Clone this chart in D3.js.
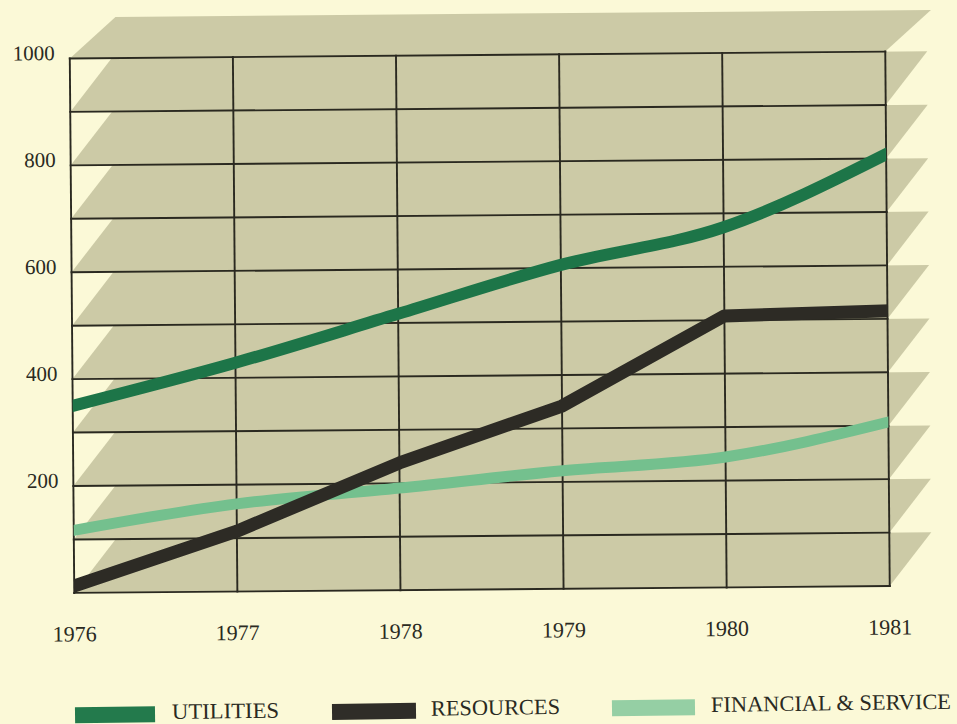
<!DOCTYPE html>
<html><head><meta charset="utf-8">
<script src="https://cdn.jsdelivr.net/npm/d3@7"></script>
<style>html,body{margin:0;padding:0;background:#fbf9d7;}svg{display:block;}</style>
</head><body>
<svg id="chart" width="957" height="724"></svg>
<script>
// ---- data ----
const years = [1976, 1977, 1978, 1979, 1980, 1981];
const utilities = [350, 428, 517, 606, 674, 808];
const resources = [13, 113, 238, 342, 508, 515];
const financial = [117, 164, 191, 221, 244, 307];
const yTickValues = [200, 400, 600, 800, 1000];
const seriesNames = ["UTILITIES", "RESOURCES", "FINANCIAL & SERVICE"];

// ---- layout / style ----
const W = 957, H = 724;
const colors = { bg: "#fbf9d7", band: "#cccaa6", grid: "#2a2920", text: "#2a2a22" };
const lineColors = ["#1d7548", "#2d2b25", "#74c08e"];
const swatchColors = ["#237a4c", "#2f2d28", "#95cfa4"];
const serif = "'Liberation Serif','Times New Roman',serif";

const svg = d3.select("#chart");
svg.append("rect").attr("width", W).attr("height", H).attr("fill", colors.bg);

const g = svg.append("g").attr("transform", "rotate(-0.48,480,320)");

const x = d3.scaleLinear().domain([1976, 1981]).range([72, 887.5]);
const y = d3.scaleLinear().domain([0, 1000]).range([589.5, 55]);
const x0 = x.range()[0], x1 = x.range()[1];

// skewed bands
const shift = 42;
const bands = d3.range(0, 1000, 100).map(v => ({ lo: v, hi: v + 100, s: shift }));
bands.push({ lo: 1000, hi: 1077, s: 46 });
g.append("g").selectAll("path").data(bands).join("path")
  .attr("d", b => `M${x0},${y(b.lo)}L${x1},${y(b.lo)}L${x1 + b.s},${y(b.hi)}L${x0 + b.s},${y(b.hi)}Z`)
  .attr("fill", colors.band);

// grid
const gridG = g.append("g").attr("stroke", colors.grid).attr("stroke-width", 1.9).attr("fill", "none");
gridG.selectAll("line.h").data(d3.range(0, 1001, 100)).join("line").attr("class", "h")
  .attr("x1", x0 - 1).attr("x2", x1 + 1).attr("y1", d => y(d)).attr("y2", d => y(d));
gridG.selectAll("line.v").data(years).join("line").attr("class", "v")
  .attr("x1", d => x(d)).attr("x2", d => x(d)).attr("y1", y(0) + 1).attr("y2", y(1000) - 1);

// y labels
g.append("g").selectAll("text").data(yTickValues).join("text")
  .attr("x", 57).attr("y", d => y(d) + 1.5)
  .attr("text-anchor", "end")
  .attr("font-family", serif)
  .attr("font-size", 21).attr("fill", colors.text)
  .text(d => d);

// x labels
g.append("g").selectAll("text").data(years).join("text")
  .attr("x", d => x(d)).attr("y", 638)
  .attr("text-anchor", "middle")
  .attr("font-family", serif)
  .attr("font-size", 22).attr("fill", colors.text)
  .text(d => d);

// lines
g.append("clipPath").attr("id", "plotclip").append("rect")
  .attr("x", x0).attr("y", 0).attr("width", x1 - x0).attr("height", 600);

const series = [utilities, resources, financial];
const curves = [d3.curveMonotoneX, d3.curveLinear, d3.curveMonotoneX];
const widths = [12, 13, 11];
const lg = g.append("g").attr("clip-path", "url(#plotclip)");
[2, 1, 0].forEach(i => {
  const line = d3.line().x((d, j) => x(years[j])).y(d => y(d)).curve(curves[i]);
  lg.append("path").datum(series[i])
    .attr("d", line)
    .attr("fill", "none")
    .attr("stroke", lineColors[i])
    .attr("stroke-width", widths[i])
    .attr("stroke-linecap", "square")
    .attr("stroke-linejoin", "round");
});

// legend
const legendX = [75, 332, 612];
const swatchW = [80, 84, 83];
const textX = [172, 431, 711];
const textLen = [107, 129, 240];
const leg = svg.append("g").attr("transform", "rotate(-0.75,480,710)");
seriesNames.forEach((name, i) => {
  leg.append("rect").attr("x", legendX[i]).attr("y", 702)
    .attr("width", swatchW[i]).attr("height", 16).attr("fill", swatchColors[i]);
  leg.append("text").attr("x", textX[i]).attr("y", 715)
    .attr("font-family", serif)
    .attr("font-size", 22).attr("fill", colors.text)
    .attr("textLength", textLen[i]).attr("lengthAdjust", "spacingAndGlyphs")
    .text(name);
});
</script>
</body></html>
